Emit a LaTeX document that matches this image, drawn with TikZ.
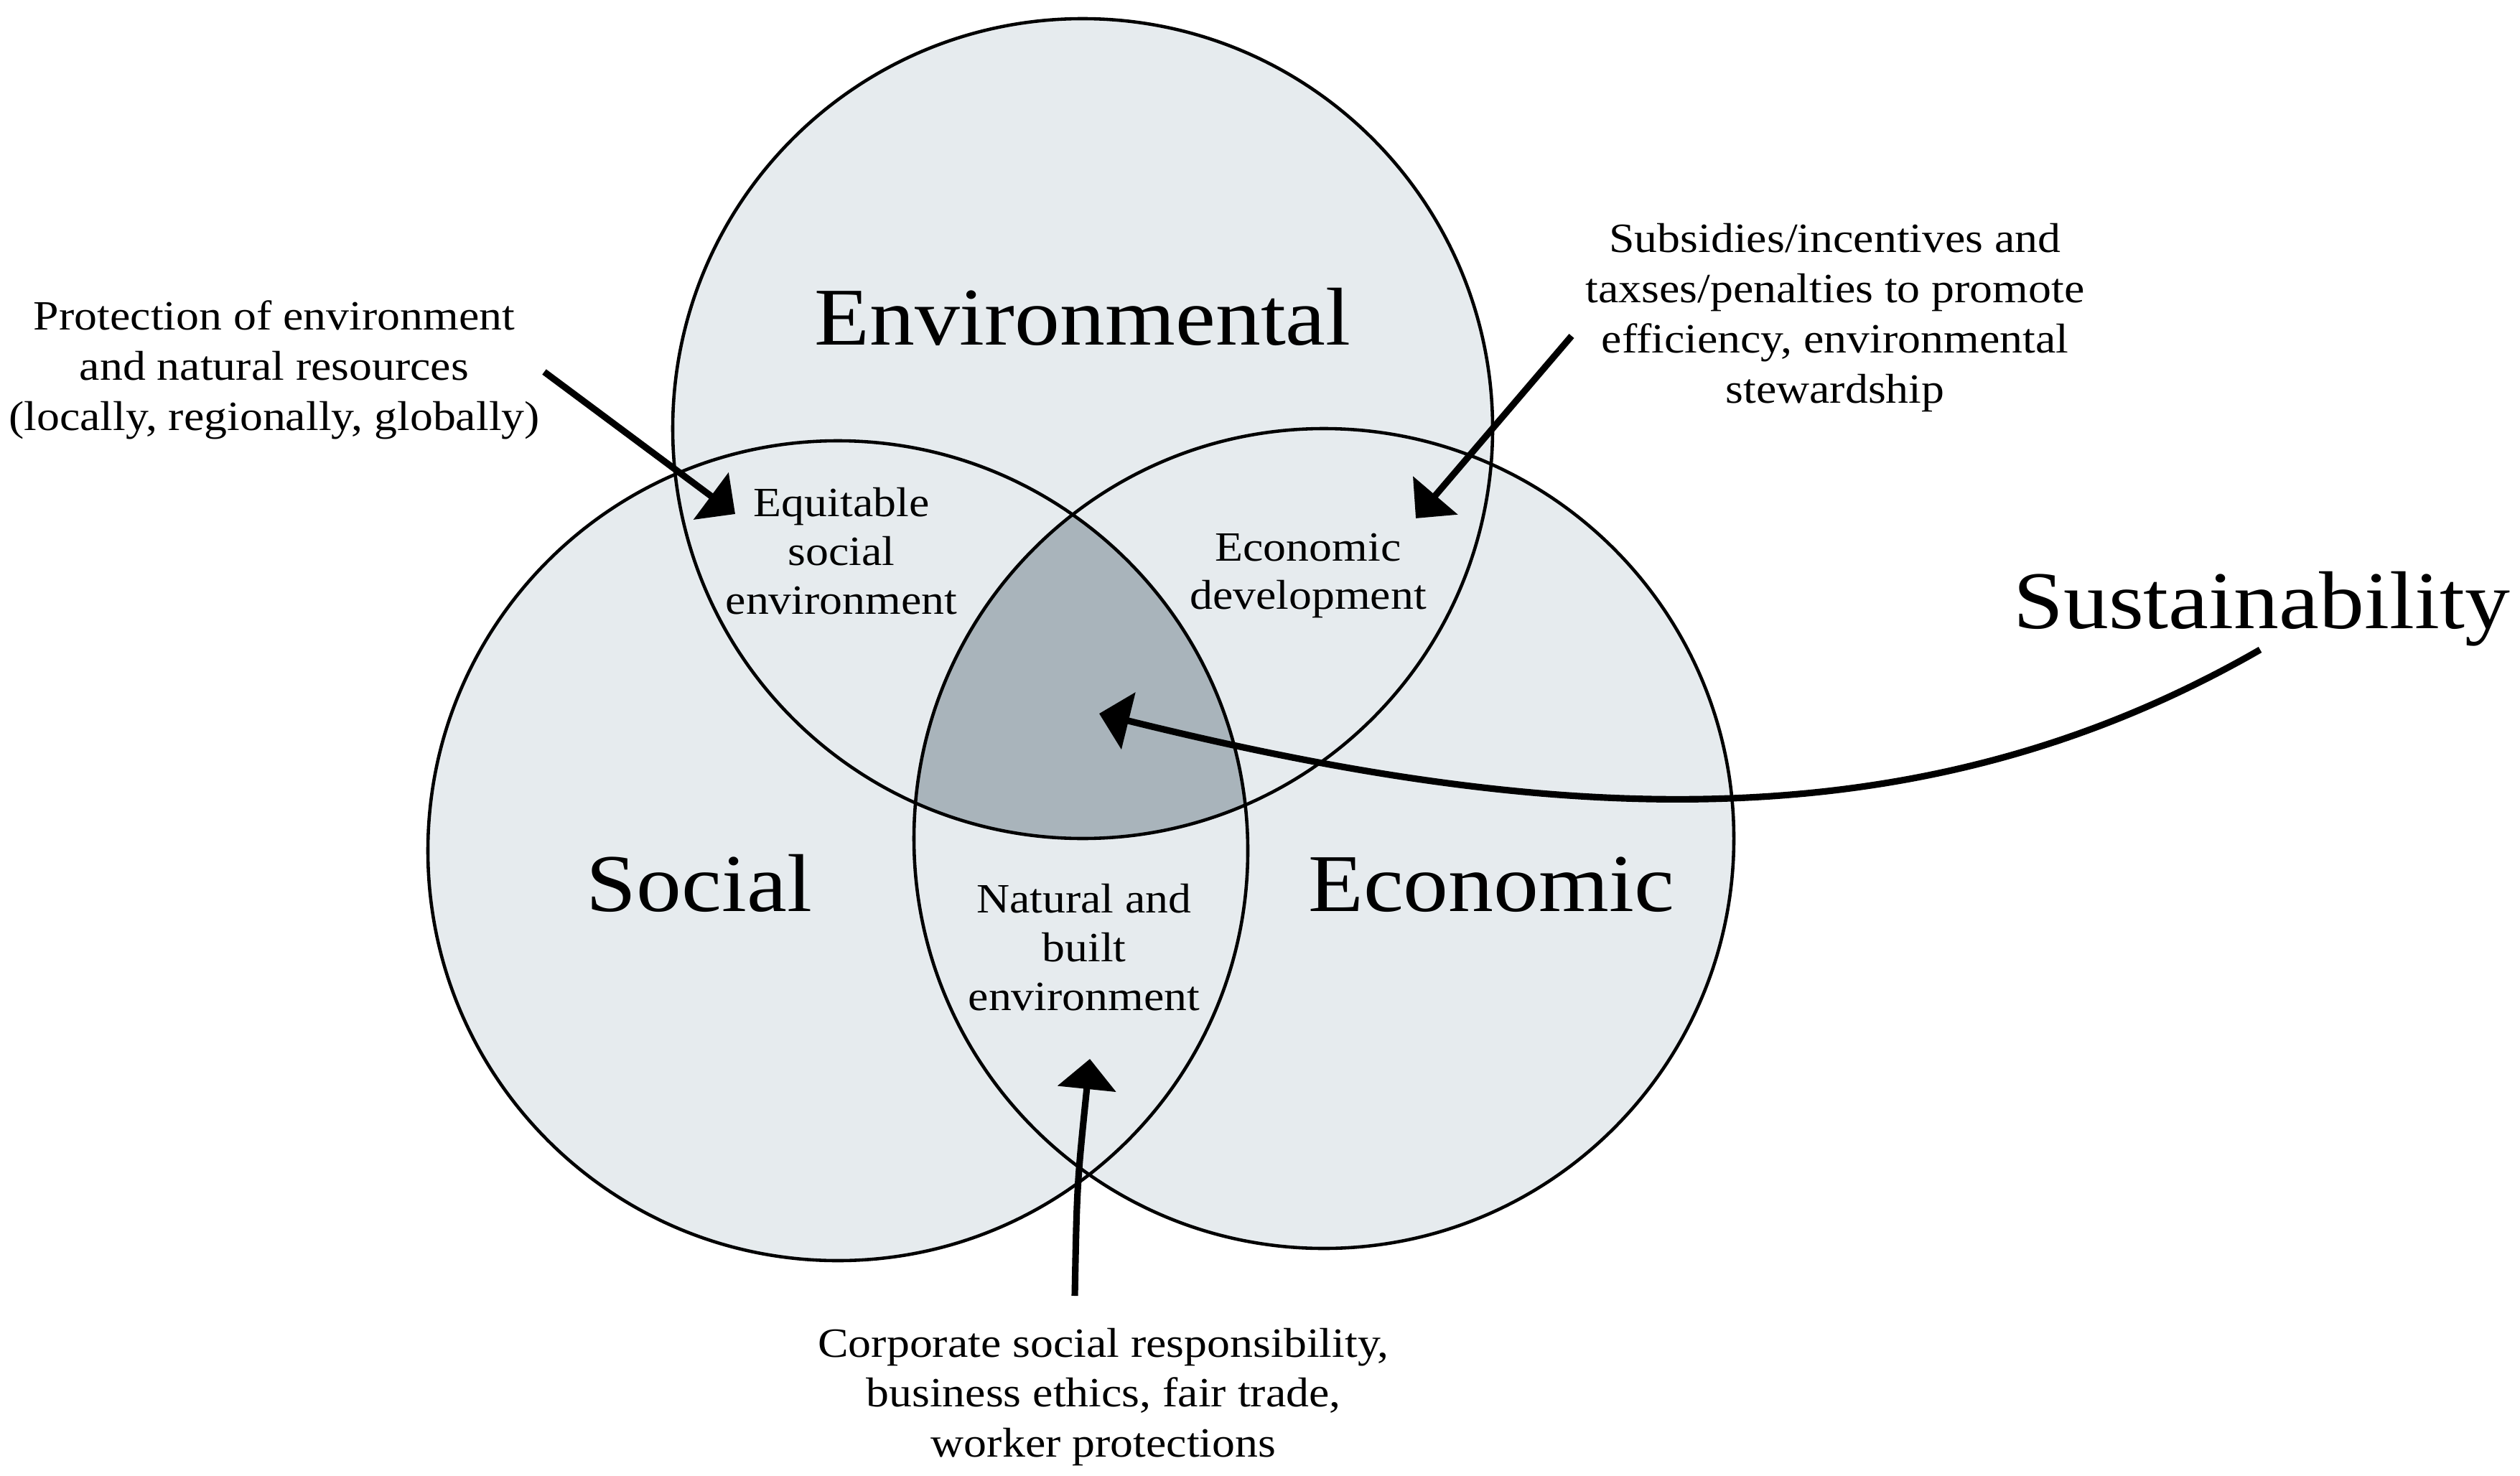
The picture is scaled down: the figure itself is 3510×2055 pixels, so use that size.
\documentclass[tikz,border=0pt]{standalone}
\usepackage{fontspec}
\setmainfont{Liberation Serif}[FakeStretch=1.1]
\usepackage{xcolor}
\usepackage{tikz}
\usetikzlibrary{arrows.meta}
\definecolor{ringfill}{RGB}{230,235,238}
\definecolor{corefill}{RGB}{169,180,187}

\begin{document}
\begin{tikzpicture}[x=0.01cm,y=-0.01cm,
    ring/.style={line width=1.3pt},
    big/.style={font=\fontsize{32.5}{38}\selectfont,inner sep=0pt},
    small/.style={font=\fontsize{16.5}{19.3}\selectfont,align=center,inner sep=0pt},
    note/.style={font=\fontsize{16.5}{19.9}\selectfont,align=center,inner sep=0pt},
    pointer/.style={line width=2.6pt,-{Triangle[length=0.42cm,width=0.8cm]}}]
\useasboundingbox (0,0) rectangle (3510,2055);
\coordinate (env) at (1508,597);
\coordinate (soc) at (1167,1185);
\coordinate (eco) at (1844,1168);

\fill[ringfill] (env) circle[radius=571] (soc) circle[radius=571] (eco) circle[radius=571];
\begin{scope}
\clip (env) circle[radius=571];
\clip (soc) circle[radius=571];
\fill[corefill] (eco) circle[radius=571];
\end{scope}
\draw[ring] (env) circle[radius=571] (soc) circle[radius=571] (eco) circle[radius=571];

\node[big,anchor=base] (envl) at (1508,480) {Environmental};
\node[big,anchor=base] (socl) at (974,1269) {Social};
\node[big,anchor=base] (ecol) at (2077,1269) {Economic};
\node[big,anchor=base] (sust) at (3150,875) {Sustainability};

\node[small] (equit) at (1172,768) {Equitable\\social\\environment};
\node[small] (devel) at (1822,802) {Economic\\development};
\node[small] (built) at (1510,1320) {Natural and\\built\\environment};
\node[note] (protect) at (382,515) {Protection of environment\\and natural resources\\(locally, regionally, globally)};
\node[note] (subsid) at (2556,443) {Subsidies/incentives and\\taxses/penalties to promote\\efficiency, environmental\\stewardship};
\node[note] (corp) at (1537,1946) {Corporate social responsibility,\\business ethics, fair trade,\\worker protections};

\coordinate (protect-tail) at (758,518);
\coordinate (protect-tip) at (1024,716);
\coordinate (subsid-tail) at (2189,468);
\coordinate (subsid-tip) at (1972,722);
\coordinate (corp-tail) at (1497,1805);
\coordinate (corp-tip) at (1518,1475);
\coordinate (sust-tail) at (3148,905);
\coordinate (sust-tip) at (1531,994);

\draw[pointer] (protect-tail) -- (protect-tip);
\draw[pointer] (subsid-tail) -- (subsid-tip);
\draw[pointer] (corp-tail) .. controls (1500,1650) .. (corp-tip);
\draw[pointer] (sust-tail) .. controls (2670,1180) and (2162,1150) .. (sust-tip);
\end{tikzpicture}
\end{document}
